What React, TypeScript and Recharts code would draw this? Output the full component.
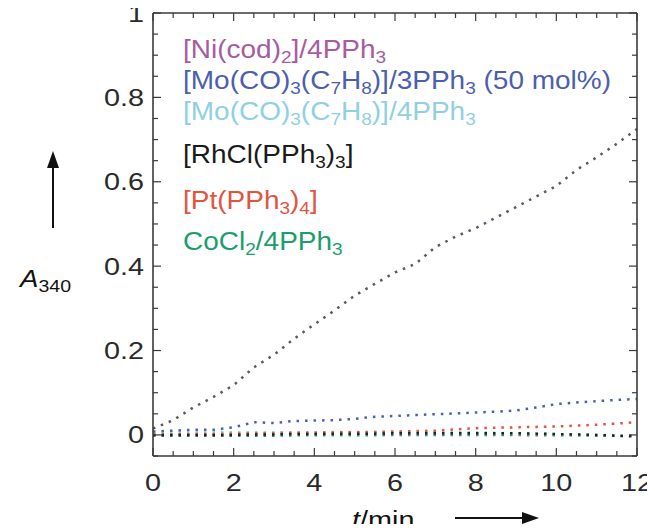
import React from "react";
import { LineChart, Line, XAxis, YAxis } from "recharts";

// ---- data (t / min, absorbance A340) ----
const times = [0, 0.5, 1, 1.5, 2, 2.5, 3, 3.5, 4, 4.5, 5, 5.5, 6, 6.5, 7, 7.5, 8, 8.5, 9, 9.5, 10, 10.5, 11, 11.5, 12];
const niValues = [0.015, 0.035, 0.065, 0.09, 0.118, 0.16, 0.19, 0.228, 0.262, 0.295, 0.33, 0.358, 0.385, 0.405, 0.445, 0.47, 0.49, 0.515, 0.54, 0.565, 0.59, 0.628, 0.658, 0.69, 0.725];
const moHalfValues = [0.008, 0.01, 0.012, 0.012, 0.018, 0.03, 0.028, 0.033, 0.034, 0.035, 0.038, 0.043, 0.045, 0.047, 0.049, 0.051, 0.053, 0.055, 0.058, 0.065, 0.073, 0.077, 0.08, 0.083, 0.085];
const moValues = [0.004, 0.005, 0.006, 0.006, 0.006, 0.006, 0.006, 0.006, 0.006, 0.007, 0.007, 0.007, 0.007, 0.007, 0.006, 0.006, 0.006, 0.005, 0.004, 0.003, 0.002, 0.001, 0.0, -0.001, -0.002];
const rhValues = [0.0, 0.0, 0.0, 0.0, 0.0, 0.001, 0.001, 0.002, 0.002, 0.003, 0.003, 0.003, 0.004, 0.004, 0.004, 0.004, 0.004, 0.004, 0.004, 0.003, 0.002, 0.001, 0.0, -0.002, -0.004];
const ptValues = [0.0, 0.001, 0.002, 0.002, 0.003, 0.004, 0.004, 0.005, 0.005, 0.006, 0.006, 0.007, 0.008, 0.009, 0.01, 0.013, 0.016, 0.017, 0.018, 0.019, 0.02, 0.022, 0.024, 0.027, 0.03];
const coValues = [-0.002, -0.002, -0.002, -0.002, -0.002, -0.002, -0.002, -0.001, -0.001, -0.001, -0.001, -0.001, 0.0, 0.0, 0.0, 0.0, 0.0, 0.0, 0.0, -0.001, -0.001, -0.001, -0.002, -0.002, -0.002];

const xTicks = [0, 0.5, 1, 1.5, 2, 2.5, 3, 3.5, 4, 4.5, 5, 5.5, 6, 6.5, 7, 7.5, 8, 8.5, 9, 9.5, 10, 10.5, 11, 11.5, 12];
const xLabelTicks = [0, 2, 4, 6, 8, 10, 12];
const yTicks = [-0.05, 0, 0.05, 0.1, 0.15, 0.2, 0.25, 0.3, 0.35, 0.4, 0.45, 0.5, 0.55, 0.6, 0.65, 0.7, 0.75, 0.8, 0.85, 0.9, 0.95, 1];
const yLabelTicks = [0, 0.2, 0.4, 0.6, 0.8, 1];
const yLabelTexts = ["0", "0.2", "0.4", "0.6", "0.8", "1"];
const X_DOMAIN: [number, number] = [0, 12];
const Y_DOMAIN: [number, number] = [-0.05, 1];

const data = times.map((t, i) => ({
  t,
  ni: niValues[i],
  moHalf: moHalfValues[i],
  mo: moValues[i],
  rh: rhValues[i],
  pt: ptValues[i],
  co: coValues[i],
}));

const FONT = "'Liberation Sans', Arial, Helvetica, sans-serif";
const FRAME = "#3a3a3a";
const TXT = "#2a2a2a";

// chart geometry
const W = 639;
const H = 516;
const MARGIN = { top: 5, right: 10, bottom: 68, left: 145 };
const AX = 1; // axis thickness reserved by XAxis height / YAxis width
const PLOT = {
  left: MARGIN.left,
  right: W - MARGIN.right,
  top: MARGIN.top,
  bottom: H - MARGIN.bottom,
};

const near = (a: number, b: number) => Math.abs(a - b) < 1e-6;

const BottomTick = (props: any) => {
  const { x, y, payload } = props;
  const v = payload.value as number;
  const major = xLabelTicks.some((m) => near(m, v));
  return (
    <g>
      <line x1={x} x2={x} y1={y} y2={y - (major ? 8 : 5)} stroke={FRAME} strokeWidth={1.2} />
      {major && (
        <text
          transform={`translate(${x},${y + 35}) scale(1.2,1)`}
          textAnchor="middle"
          fontFamily={FONT}
          fontSize={24}
          fill={TXT}
        >
          {String(v)}
        </text>
      )}
    </g>
  );
};

const LeftTick = (props: any) => {
  const { x, y, payload } = props;
  const v = payload.value as number;
  const idx = yLabelTicks.findIndex((m) => near(m, v));
  const major = idx >= 0;
  return (
    <g>
      <line x1={x} x2={x + (major ? 8 : 5)} y1={y} y2={y} stroke={FRAME} strokeWidth={1.2} />
      {major && (
        <text
          transform={`translate(${x - 9},${y + 8.5}) scale(1.2,1)`}
          textAnchor="end"
          fontFamily={FONT}
          fontSize={24}
          fill={TXT}
        >
          {yLabelTexts[idx]}
        </text>
      )}
    </g>
  );
};

type Seg = { s: string; sub?: boolean };
const legendRows: { color: string; baseline: number; segs: Seg[] }[] = [
  { color: "#a85c9f", baseline: 50, segs: [{ s: "[Ni(cod)" }, { s: "2", sub: true }, { s: "]/4PPh" }, { s: "3", sub: true }] },
  {
    color: "#4b5fae",
    baseline: 81,
    segs: [
      { s: "[Mo(CO)" }, { s: "3", sub: true }, { s: "(C" }, { s: "7", sub: true }, { s: "H" }, { s: "8", sub: true },
      { s: ")]/3PPh" }, { s: "3", sub: true }, { s: " (50 mol%)" },
    ],
  },
  {
    color: "#8fd0e2",
    baseline: 112,
    segs: [
      { s: "[Mo(CO)" }, { s: "3", sub: true }, { s: "(C" }, { s: "7", sub: true }, { s: "H" }, { s: "8", sub: true },
      { s: ")]/4PPh" }, { s: "3", sub: true },
    ],
  },
  { color: "#1a1a1a", baseline: 155, segs: [{ s: "[RhCl(PPh" }, { s: "3", sub: true }, { s: ")" }, { s: "3", sub: true }, { s: "]" }] },
  { color: "#e0553f", baseline: 201, segs: [{ s: "[Pt(PPh" }, { s: "3", sub: true }, { s: ")" }, { s: "4", sub: true }, { s: "]" }] },
  { color: "#1c9e6c", baseline: 242, segs: [{ s: "CoCl" }, { s: "2", sub: true }, { s: "/4PPh" }, { s: "3", sub: true }] },
];

const renderSegs = (segs: Seg[]) => {
  const out: React.ReactNode[] = [];
  let down = false;
  segs.forEach((g, i) => {
    if (g.sub) {
      out.push(
        <tspan key={i} dy={down ? 0 : 5} fontSize={17}>
          {g.s}
        </tspan>
      );
      down = true;
    } else {
      out.push(
        <tspan key={i} dy={down ? -5 : 0} fontSize={25}>
          {g.s}
        </tspan>
      );
      down = false;
    }
  });
  return out;
};

const lineProps = {
  strokeWidth: 2.5,
  strokeDasharray: "2.5 6",
  dot: false as const,
  isAnimationActive: false,
  type: "linear" as const,
};

// frame decoration (top & right edges with inward ticks), using the same domains as the axes
const fx = (t: number) => PLOT.left + ((t - X_DOMAIN[0]) / (X_DOMAIN[1] - X_DOMAIN[0])) * (PLOT.right - PLOT.left);
const fy = (v: number) => PLOT.bottom - ((v - Y_DOMAIN[0]) / (Y_DOMAIN[1] - Y_DOMAIN[0])) * (PLOT.bottom - PLOT.top);

export default function App() {
  return (
    <div style={{ position: "relative", width: W, height: H }}>
      <style>{`.recharts-wrapper, .recharts-wrapper svg, svg.recharts-surface { overflow: visible !important; }`}</style>
      <LineChart
        width={W}
        height={H}
        data={data}
        margin={{ top: MARGIN.top, right: MARGIN.right, bottom: MARGIN.bottom - AX, left: MARGIN.left - AX }}
      >
        <XAxis
          dataKey="t"
          type="number"
          domain={X_DOMAIN}
          ticks={xTicks}
          interval={0}
          height={AX}
          tickSize={0}
          tickMargin={0}
          tickLine={false}
          axisLine={{ stroke: FRAME, strokeWidth: 1.6 }}
          tick={<BottomTick />}
        />
        <YAxis
          type="number"
          domain={Y_DOMAIN}
          ticks={yTicks}
          interval={0}
          width={AX}
          tickSize={0}
          tickMargin={0}
          tickLine={false}
          allowDataOverflow
          axisLine={{ stroke: FRAME, strokeWidth: 1.6 }}
          tick={<LeftTick />}
        />
        <Line dataKey="co" stroke="#1c9e6c" {...lineProps} />
        <Line dataKey="mo" stroke="#8fd0e2" {...lineProps} />
        <Line dataKey="pt" stroke="#e0553f" {...lineProps} />
        <Line dataKey="moHalf" stroke="#4b5fae" {...lineProps} />
        <Line dataKey="rh" stroke="#222222" {...lineProps} />
        <Line dataKey="ni" stroke="#62526b" {...lineProps} />
      </LineChart>
      <svg
        width={W}
        height={H}
        style={{ position: "absolute", left: 0, top: 0, pointerEvents: "none", overflow: "visible" }}
      >
        {/* top and right frame edges */}
        <line x1={PLOT.left} x2={PLOT.right} y1={PLOT.top} y2={PLOT.top} stroke={FRAME} strokeWidth={1.6} />
        <line x1={PLOT.right} x2={PLOT.right} y1={PLOT.top} y2={PLOT.bottom} stroke={FRAME} strokeWidth={1.6} />
        {xTicks.map((t) => (
          <line
            key={`tt${t}`}
            x1={fx(t)}
            x2={fx(t)}
            y1={PLOT.top}
            y2={PLOT.top + (xLabelTicks.some((m) => near(m, t)) ? 8 : 5)}
            stroke={FRAME}
            strokeWidth={1.2}
          />
        ))}
        {yTicks.map((v) => (
          <line
            key={`rt${v}`}
            x1={PLOT.right}
            x2={PLOT.right - (yLabelTicks.some((m) => near(m, v)) ? 8 : 5)}
            y1={fy(v)}
            y2={fy(v)}
            stroke={FRAME}
            strokeWidth={1.2}
          />
        ))}
        <g transform="translate(175,0) scale(1.12,1)" fontFamily={FONT}>
          {legendRows.map((r, i) => (
            <text key={i} x={0} y={r.baseline} fill={r.color}>
              {renderSegs(r.segs)}
            </text>
          ))}
        </g>
        {/* y axis label with arrow */}
        <line x1={45} x2={45} y1={220} y2={156} stroke="#111" strokeWidth={2} />
        <polygon points="45,143 39,160 51,160" fill="#111" />
        <text transform="translate(12,279) scale(1.15,1)" fontFamily={FONT} fill="#111">
          <tspan fontSize={24} fontStyle="italic">A</tspan>
          <tspan fontSize={17} dy={5}>340</tspan>
        </text>
        {/* x axis label with arrow */}
        <text transform="translate(344,520) scale(1.2,1)" fontFamily={FONT} fill="#111">
          <tspan fontSize={24} fontStyle="italic">t</tspan>
          <tspan fontSize={24}>/min</tspan>
        </text>
        <line x1={447} x2={517} y1={510} y2={510} stroke="#111" strokeWidth={2} />
        <polygon points="531,510 514,504 514,516" fill="#111" />
      </svg>
    </div>
  );
}
